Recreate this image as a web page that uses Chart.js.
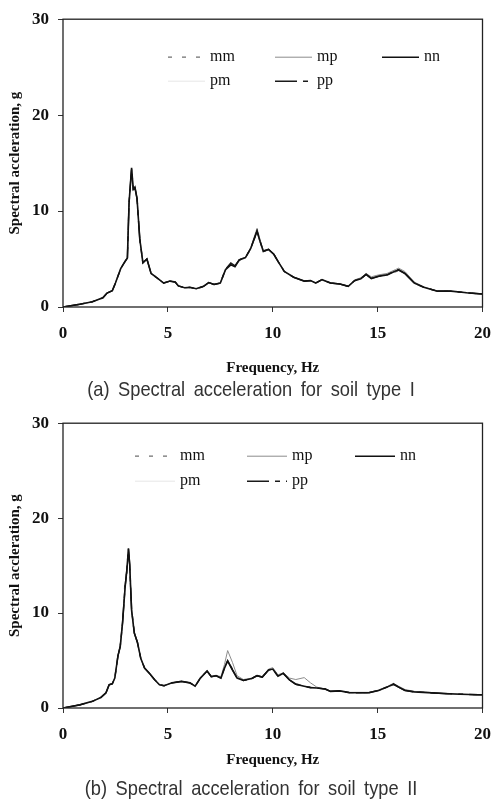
<!DOCTYPE html>
<html>
<head>
<meta charset="utf-8">
<script src="https://cdn.jsdelivr.net/npm/chart.js@4.4.1/dist/chart.umd.min.js"></script>
<style>
  body { margin: 0; background: #fff; width: 502px; height: 806px; position: relative; overflow: hidden; }
  canvas { position: absolute; left: 0; }
  #chartA { top: 0; }
  #chartB { top: 404px; }
  .caption {
    position: absolute; left: 0; width: 502px; height: 24px; line-height: 24px;
    text-align: center; color: #333; white-space: nowrap;
    font-family: "Liberation Sans", Arial, sans-serif; font-size: 21px;
    transform: scaleX(0.87); word-spacing: 4px;
  }
  #capA { top: 377px; }
  #capB { top: 776px; }
</style>
</head>
<body>
<canvas id="chartA" width="502" height="378"></canvas>
<div class="caption" id="capA">(a) Spectral acceleration for soil type I</div>
<canvas id="chartB" width="502" height="366"></canvas>
<div class="caption" id="capB">(b) Spectral acceleration for soil type II</div>

<script>
// Series names (legend order)
const seriesNames = ['mm', 'mp', 'nn', 'pm', 'pp'];

const xTicks = [0, 5, 10, 15, 20];
const yTicks = [0, 10, 20, 30];

// Soil type I - frequency (Hz) and spectral acceleration (g)
const freqA = [0, 0.8, 1.4, 1.9, 2.1, 2.35, 2.5, 2.75, 2.95, 3.07,
  3.15, 3.27, 3.35, 3.43, 3.53, 3.66, 3.81, 4.0, 4.2, 4.5,
  4.8, 5.1, 5.35, 5.5, 5.8, 6.05, 6.35, 6.7, 6.95, 7.2,
  7.5, 7.75, 8.0, 8.2, 8.4, 8.7, 8.95, 9.25, 9.4, 9.55,
  9.8, 10.05, 10.25, 10.55, 11.0, 11.5, 11.8, 12.05, 12.35, 12.75,
  13.2, 13.6, 13.9, 14.2, 14.45, 14.7, 15.05, 15.45, 15.85, 16.0,
  16.3, 16.75, 17.2, 17.85, 18.5, 19.25, 20];
const mmA = [0, 0.28, 0.55, 0.95, 1.42, 1.72, 2.45, 3.95, 4.7, 5.2,
  11.2, 14.3, 12.2, 12.4, 11.1, 7.0, 4.6, 5.0, 3.5, 3.0,
  2.5, 2.7, 2.6, 2.2, 2.0, 2.05, 1.9, 2.15, 2.55, 2.35,
  2.5, 3.85, 4.5, 4.25, 4.9, 5.15, 6.1, 7.8, 6.8, 5.8,
  6.0, 5.5, 4.75, 3.7, 3.1, 2.7, 2.75, 2.5, 2.85, 2.5,
  2.4, 2.15, 2.8, 3.0, 3.35, 3.0, 3.25, 3.4, 3.65, 3.8,
  3.5, 2.5, 2.05, 1.65, 1.65, 1.48, 1.35];
const mpA = [0, 0.28, 0.55, 0.96, 1.45, 1.7, 2.5, 4.0, 4.7, 5.1,
  10.8, 14.4, 12.3, 12.5, 11.3, 7.2, 4.6, 5.0, 3.5, 3.0,
  2.5, 2.7, 2.6, 2.2, 2.0, 2.05, 1.9, 2.15, 2.55, 2.35,
  2.5, 3.9, 4.5, 4.3, 4.95, 5.2, 6.2, 8.2, 7.0, 5.9,
  6.05, 5.55, 4.8, 3.7, 3.1, 2.7, 2.75, 2.5, 2.85, 2.5,
  2.4, 2.15, 2.8, 3.05, 3.5, 3.15, 3.35, 3.5, 3.9, 4.05,
  3.7, 2.6, 2.1, 1.65, 1.65, 1.48, 1.35];
const nnA = [0, 0.28, 0.55, 0.96, 1.45, 1.7, 2.5, 4.0, 4.7, 5.1,
  10.9, 14.5, 12.3, 12.5, 11.3, 7.1, 4.6, 5.0, 3.5, 3.0,
  2.5, 2.7, 2.6, 2.2, 2.0, 2.05, 1.9, 2.15, 2.55, 2.35,
  2.5, 3.9, 4.4, 4.2, 4.9, 5.15, 6.1, 7.9, 6.8, 5.8,
  6.0, 5.5, 4.75, 3.7, 3.1, 2.7, 2.75, 2.5, 2.85, 2.5,
  2.4, 2.15, 2.75, 2.95, 3.4, 2.95, 3.2, 3.35, 3.75, 3.85,
  3.5, 2.5, 2.05, 1.65, 1.65, 1.48, 1.35];
const pmA = [0, 0.28, 0.55, 0.96, 1.45, 1.7, 2.5, 4.0, 4.7, 5.1,
  10.9, 14.4, 12.3, 12.5, 11.3, 7.1, 4.6, 5.0, 3.5, 3.0,
  2.5, 2.7, 2.6, 2.2, 2.0, 2.05, 1.9, 2.15, 2.55, 2.35,
  2.5, 3.9, 4.4, 4.2, 4.9, 5.15, 6.05, 7.85, 6.8, 5.8,
  6.0, 5.5, 4.75, 3.7, 3.1, 2.7, 2.75, 2.5, 2.85, 2.5,
  2.4, 2.15, 2.75, 2.95, 3.35, 2.95, 3.2, 3.3, 3.7, 3.8,
  3.5, 2.5, 2.05, 1.65, 1.65, 1.48, 1.35];
const ppA = [0, 0.28, 0.55, 0.96, 1.45, 1.7, 2.5, 4.0, 4.75, 5.1,
  10.9, 14.4, 12.3, 12.4, 11.3, 7.1, 4.6, 5.0, 3.5, 3.0,
  2.5, 2.7, 2.6, 2.2, 2.0, 2.05, 1.9, 2.15, 2.55, 2.35,
  2.5, 3.95, 4.6, 4.3, 4.9, 5.15, 6.1, 7.95, 6.8, 5.8,
  6.0, 5.5, 4.75, 3.7, 3.1, 2.7, 2.75, 2.5, 2.85, 2.5,
  2.4, 2.15, 2.75, 2.95, 3.4, 3.0, 3.2, 3.35, 3.8, 3.9,
  3.5, 2.5, 2.05, 1.65, 1.65, 1.48, 1.35];

// Soil type II
const freqB = [0, 0.8, 1.4, 1.8, 2.05, 2.2, 2.35, 2.47, 2.62, 2.73,
  2.84, 2.96, 3.04, 3.12, 3.18, 3.27, 3.4, 3.55, 3.71, 3.89,
  4.12, 4.36, 4.6, 4.82, 5.2, 5.65, 6.05, 6.3, 6.55, 6.87,
  7.07, 7.3, 7.53, 7.7, 7.85, 8.08, 8.3, 8.6, 9.0, 9.25,
  9.5, 9.8, 10.0, 10.25, 10.5, 10.8, 11.1, 11.5, 11.8, 12.1,
  12.5, 12.75, 13.2, 13.65, 14.1, 14.6, 15.05, 15.45, 15.75, 16.0,
  16.3, 16.75, 17.4, 18.15, 18.95, 19.8, 20];
const mmB = [0, 0.33, 0.7, 1.1, 1.6, 2.45, 2.55, 3.2, 5.6, 6.6,
  9.2, 13.6, 14.2, 16.5, 14.8, 10.1, 7.9, 6.9, 5.2, 4.2,
  3.65, 3.0, 2.45, 2.35, 2.65, 2.8, 2.65, 2.3, 3.15, 3.9,
  3.3, 3.4, 3.15, 4.25, 5.1, 4.1, 3.2, 2.95, 3.1, 3.4,
  3.25, 4.0, 4.15, 3.4, 3.65, 3.0, 2.55, 2.35, 2.2, 2.1,
  2.0, 1.75, 1.8, 1.62, 1.6, 1.62, 1.85, 2.2, 2.45, 2.25,
  1.9, 1.7, 1.62, 1.52, 1.45, 1.4, 1.4];
const mpB = [0, 0.33, 0.7, 1.1, 1.6, 2.45, 2.55, 3.15, 5.5, 6.5,
  9.0, 12.6, 14.3, 16.7, 15.0, 10.3, 7.9, 6.9, 5.2, 4.2,
  3.65, 3.0, 2.45, 2.35, 2.65, 2.8, 2.65, 2.3, 3.15, 3.9,
  3.35, 3.45, 3.3, 4.6, 6.05, 4.8, 3.4, 3.0, 3.15, 3.45,
  3.3, 4.1, 4.25, 3.5, 3.7, 3.15, 3.0, 3.2, 2.65, 2.2,
  2.0, 1.8, 1.8, 1.65, 1.65, 1.65, 1.9, 2.25, 2.6, 2.3,
  1.95, 1.75, 1.65, 1.52, 1.45, 1.4, 1.4];
const nnB = [0, 0.33, 0.7, 1.1, 1.6, 2.45, 2.55, 3.15, 5.5, 6.5,
  9.0, 12.7, 14.4, 16.8, 15.1, 10.3, 7.9, 6.9, 5.2, 4.2,
  3.65, 3.0, 2.45, 2.35, 2.65, 2.8, 2.65, 2.3, 3.15, 3.9,
  3.3, 3.4, 3.15, 4.2, 4.95, 4.0, 3.15, 2.9, 3.1, 3.4,
  3.25, 4.0, 4.1, 3.35, 3.65, 2.95, 2.5, 2.3, 2.15, 2.1,
  2.0, 1.75, 1.8, 1.62, 1.6, 1.62, 1.85, 2.2, 2.5, 2.2,
  1.85, 1.7, 1.62, 1.52, 1.45, 1.4, 1.4];
const pmB = [0, 0.33, 0.7, 1.1, 1.6, 2.45, 2.55, 3.15, 5.5, 6.5,
  9.0, 12.7, 14.4, 16.6, 15.0, 10.3, 7.9, 6.9, 5.2, 4.2,
  3.65, 3.0, 2.45, 2.35, 2.65, 2.8, 2.65, 2.3, 3.15, 3.9,
  3.3, 3.4, 3.15, 4.2, 4.9, 4.0, 3.15, 2.9, 3.1, 3.4,
  3.25, 4.0, 4.1, 3.35, 3.65, 2.95, 2.5, 2.3, 2.15, 2.1,
  2.0, 1.75, 1.8, 1.62, 1.6, 1.62, 1.85, 2.2, 2.5, 2.2,
  1.85, 1.7, 1.62, 1.52, 1.45, 1.4, 1.4];
const ppB = [0, 0.33, 0.7, 1.1, 1.6, 2.45, 2.55, 3.15, 5.5, 6.5,
  9.0, 12.8, 14.5, 16.8, 15.1, 10.4, 7.9, 6.9, 5.2, 4.2,
  3.65, 3.0, 2.45, 2.35, 2.65, 2.8, 2.65, 2.3, 3.15, 3.9,
  3.3, 3.4, 3.15, 4.25, 5.0, 4.05, 3.15, 2.9, 3.1, 3.4,
  3.25, 4.0, 4.1, 3.35, 3.65, 2.95, 2.5, 2.3, 2.15, 2.1,
  2.0, 1.75, 1.8, 1.62, 1.6, 1.62, 1.85, 2.2, 2.55, 2.2,
  1.85, 1.7, 1.62, 1.52, 1.45, 1.4, 1.4];

const SERIF = '"Liberation Serif", "Times New Roman", serif';

// line look per series
const lineStyles = {
  mm: { borderColor: '#6f6f6f', borderDash: [4, 10], borderWidth: 1.2, order: 2 },
  mp: { borderColor: '#8c8c8c', borderDash: [], borderWidth: 1, order: 3 },
  nn: { borderColor: '#111111', borderDash: [], borderWidth: 1.6, order: 0 },
  pm: { borderColor: '#e6e6e6', borderDash: [], borderWidth: 1, order: 4 },
  pp: { borderColor: '#1a1a1a', borderDash: [22, 6, 5, 6], borderWidth: 1.4, order: 1 }
};

// Legend drawn as a 3-column grid inside the plot
const gridLegend = {
  id: 'gridLegend',
  afterDraw(chart, args, opts) {
    const { ctx, chartArea } = chart;
    ctx.save();
    ctx.font = opts.font;
    ctx.fillStyle = '#111';
    ctx.textBaseline = 'middle';
    chart.data.datasets.forEach((ds, i) => {
      const col = i % 3;
      const row = Math.floor(i / 3);
      const x = chartArea.left + opts.cols[col];
      const y = chartArea.top + opts.rows[row];
      ctx.beginPath();
      ctx.strokeStyle = ds.borderColor;
      ctx.lineWidth = ds.borderWidth;
      ctx.setLineDash(ds.borderDash || []);
      ctx.moveTo(x, y);
      ctx.lineTo(x + opts.lineLength, y);
      ctx.stroke();
      ctx.setLineDash([]);
      ctx.fillText(ds.label, x + opts.lineLength + opts.gap, y);
    });
    ctx.restore();
  }
};

// Box around the plot area
const frame = {
  id: 'frame',
  afterDatasetsDraw(chart) {
    const { ctx, chartArea: a } = chart;
    ctx.save();
    ctx.strokeStyle = '#222';
    ctx.lineWidth = 1.3;
    ctx.strokeRect(a.left, a.top, a.right - a.left, a.bottom - a.top);
    ctx.restore();
  }
};

const makeChart = (canvasId, freq, values, xHeight, legendOpts) => {
  const datasets = seriesNames.map((name, i) => ({
    label: name,
    data: freq.map((f, j) => ({ x: f, y: values[i][j] })),
    pointRadius: 0,
    tension: 0,
    fill: false,
    ...lineStyles[name]
  }));

  return new Chart(document.getElementById(canvasId), {
    type: 'line',
    data: { datasets },
    plugins: [gridLegend, frame],
    options: {
      responsive: false,
      animation: false,
      devicePixelRatio: 1,
      layout: { padding: { left: 0, top: 11, right: 10, bottom: 0 } },
      plugins: {
        legend: { display: false },
        tooltip: { enabled: false },
        gridLegend: legendOpts
      },
      scales: {
        x: {
          type: 'linear',
          min: 0,
          max: 20,
          afterBuildTicks: (scale) => { scale.ticks = xTicks.map(v => ({ value: v })); },
          afterFit: (scale) => { scale.height = xHeight; },
          ticks: { color: '#111', padding: 11, maxRotation: 0, font: { family: SERIF, size: 17, weight: 'bold' } },
          grid: { drawOnChartArea: false, drawTicks: true, tickLength: 5, color: '#333' },
          border: { display: false },
          title: {
            display: true,
            text: 'Frequency, Hz',
            color: '#111',
            padding: { top: 0, bottom: 1 },
            font: { family: SERIF, size: 15, weight: 'bold' }
          }
        },
        y: {
          min: 0,
          max: 30,
          afterBuildTicks: (scale) => { scale.ticks = yTicks.map(v => ({ value: v })); },
          afterFit: (scale) => { scale.width = 63; },
          ticks: { color: '#111', padding: 9, font: { family: SERIF, size: 17, weight: 'bold' } },
          grid: { drawOnChartArea: false, drawTicks: true, tickLength: 5, color: '#333' },
          border: { display: false },
          title: {
            display: true,
            text: 'Spectral accleration, g',
            color: '#111',
            padding: { top: 6, bottom: 0 },
            font: { family: SERIF, size: 15, weight: 'bold' }
          }
        }
      }
    }
  });
};

makeChart('chartA', freqA, [mmA, mpA, nnA, pmA, ppA], 71, {
  cols: [105, 212, 319], rows: [38, 62], lineLength: 37, gap: 5,
  font: '16px ' + SERIF
});

makeChart('chartB', freqB, [mmB, mpB, nnB, pmB, ppB], 62, {
  cols: [72, 184, 292], rows: [33, 58], lineLength: 40, gap: 5,
  font: '16px ' + SERIF
});
</script>
</body>
</html>
